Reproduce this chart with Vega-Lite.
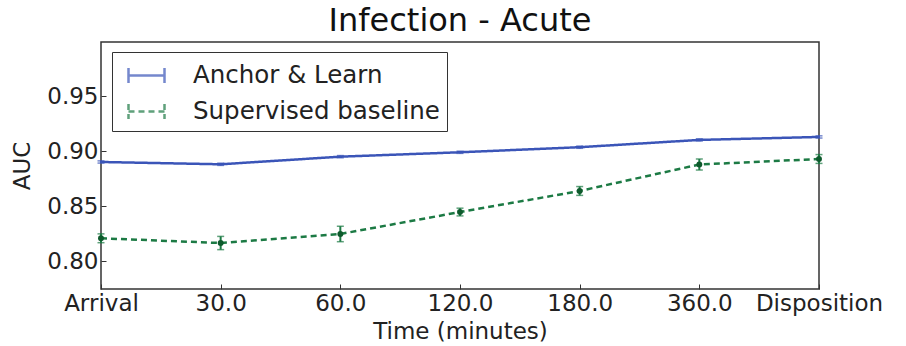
{
  "$schema": "https://vega.github.io/schema/vega-lite/v6.json",
  "width": 718,
  "height": 247,
  "autosize": {"type": "none"},
  "padding": {"left": 101, "top": 42, "right": 87, "bottom": 57},
  "background": "white",
  "title": {"text": "Infection - Acute", "fontSize": 32, "fontWeight": "normal", "color": "#111", "offset": 4, "anchor": "middle"},
  "data": {"values": [
    {"time": "Arrival", "series": "Anchor & Learn", "auc": 0.8902, "lo": 0.8892, "hi": 0.8912},
    {"time": "30.0", "series": "Anchor & Learn", "auc": 0.8881, "lo": 0.8871, "hi": 0.8891},
    {"time": "60.0", "series": "Anchor & Learn", "auc": 0.8950, "lo": 0.8940, "hi": 0.8960},
    {"time": "120.0", "series": "Anchor & Learn", "auc": 0.8990, "lo": 0.8980, "hi": 0.9000},
    {"time": "180.0", "series": "Anchor & Learn", "auc": 0.9036, "lo": 0.9026, "hi": 0.9046},
    {"time": "360.0", "series": "Anchor & Learn", "auc": 0.9102, "lo": 0.9092, "hi": 0.9112},
    {"time": "Disposition", "series": "Anchor & Learn", "auc": 0.9129, "lo": 0.9119, "hi": 0.9139},
    {"time": "Arrival", "series": "Supervised baseline", "auc": 0.8210, "lo": 0.8170, "hi": 0.8250},
    {"time": "30.0", "series": "Supervised baseline", "auc": 0.8167, "lo": 0.8107, "hi": 0.8227},
    {"time": "60.0", "series": "Supervised baseline", "auc": 0.8249, "lo": 0.8179, "hi": 0.8319},
    {"time": "120.0", "series": "Supervised baseline", "auc": 0.8448, "lo": 0.8413, "hi": 0.8483},
    {"time": "180.0", "series": "Supervised baseline", "auc": 0.8639, "lo": 0.8599, "hi": 0.8679},
    {"time": "360.0", "series": "Supervised baseline", "auc": 0.8879, "lo": 0.8829, "hi": 0.8929},
    {"time": "Disposition", "series": "Supervised baseline", "auc": 0.8929, "lo": 0.8889, "hi": 0.8969}
  ]},
  "encoding": {
    "x": {
      "field": "time", "type": "ordinal",
      "sort": ["Arrival", "30.0", "60.0", "120.0", "180.0", "360.0", "Disposition"],
      "scale": {"type": "point", "padding": 0},
      "axis": {"title": "Time (minutes)", "labelAngle": 0, "labelPadding": 8, "tickSize": -5, "titlePadding": 5}
    }
  },
  "layer": [
    {
      "mark": {"type": "line", "strokeWidth": 2.5},
      "encoding": {
        "y": {"field": "auc", "type": "quantitative", "scale": {"domain": [0.775, 0.999], "nice": false, "zero": false},
              "axis": {"title": "AUC", "values": [0.80, 0.85, 0.90, 0.95], "format": ".2f", "labelPadding": 8, "tickSize": -5, "titlePadding": 12}},
        "color": {"field": "series", "type": "nominal",
                  "scale": {"domain": ["Anchor & Learn", "Supervised baseline"], "range": ["#3b55b8", "#1c7a44"]},
                  "legend": {
                    "title": null, "orient": "none", "legendX": 11, "legendY": 10, "direction": "vertical",
                    "fillColor": "white", "strokeColor": "#333", "cornerRadius": 0,
                    "padding": 7, "rowPadding": 7,
                    "symbolType": "M-1.2,-0.5V0.5M-1.2,0H1.2M1.2,-0.5V0.5",
                    "symbolSize": 900, "symbolStrokeWidth": 2.5, "symbolOpacity": 1, "symbolOffset": 11, "labelOffset": 30,
                    "labelFontSize": 24.5, "labelColor": "#222", "labelLimit": 400
                  }},
        "strokeDash": {"field": "series", "type": "nominal",
                  "scale": {"domain": ["Anchor & Learn", "Supervised baseline"], "range": [[1, 0], [6, 4]]}}
      }
    },
    {
      "mark": {"type": "errorbar", "thickness": 2, "ticks": {"size": 7, "thickness": 1.5}},
      "encoding": {
        "y": {"field": "lo", "type": "quantitative", "title": "AUC"},
        "y2": {"field": "hi"},
        "color": {"field": "series", "type": "nominal"}
      }
    },
    {
      "transform": [{"filter": "datum.series === 'Supervised baseline'"}],
      "mark": {"type": "point", "filled": true, "size": 35, "opacity": 1, "color": "#0e5a2c"},
      "encoding": {
        "y": {"field": "auc", "type": "quantitative"}
      }
    }
  ],
  "config": {
    "font": "DejaVu Sans",
    "view": {"stroke": "#333", "strokeWidth": 1.5},
    "axis": {"grid": false, "domain": false, "labelFontSize": 23, "titleFontSize": 23, "titleFontWeight": "normal",
             "labelColor": "#222", "titleColor": "#222", "tickColor": "#333", "tickWidth": 1}
  }
}
